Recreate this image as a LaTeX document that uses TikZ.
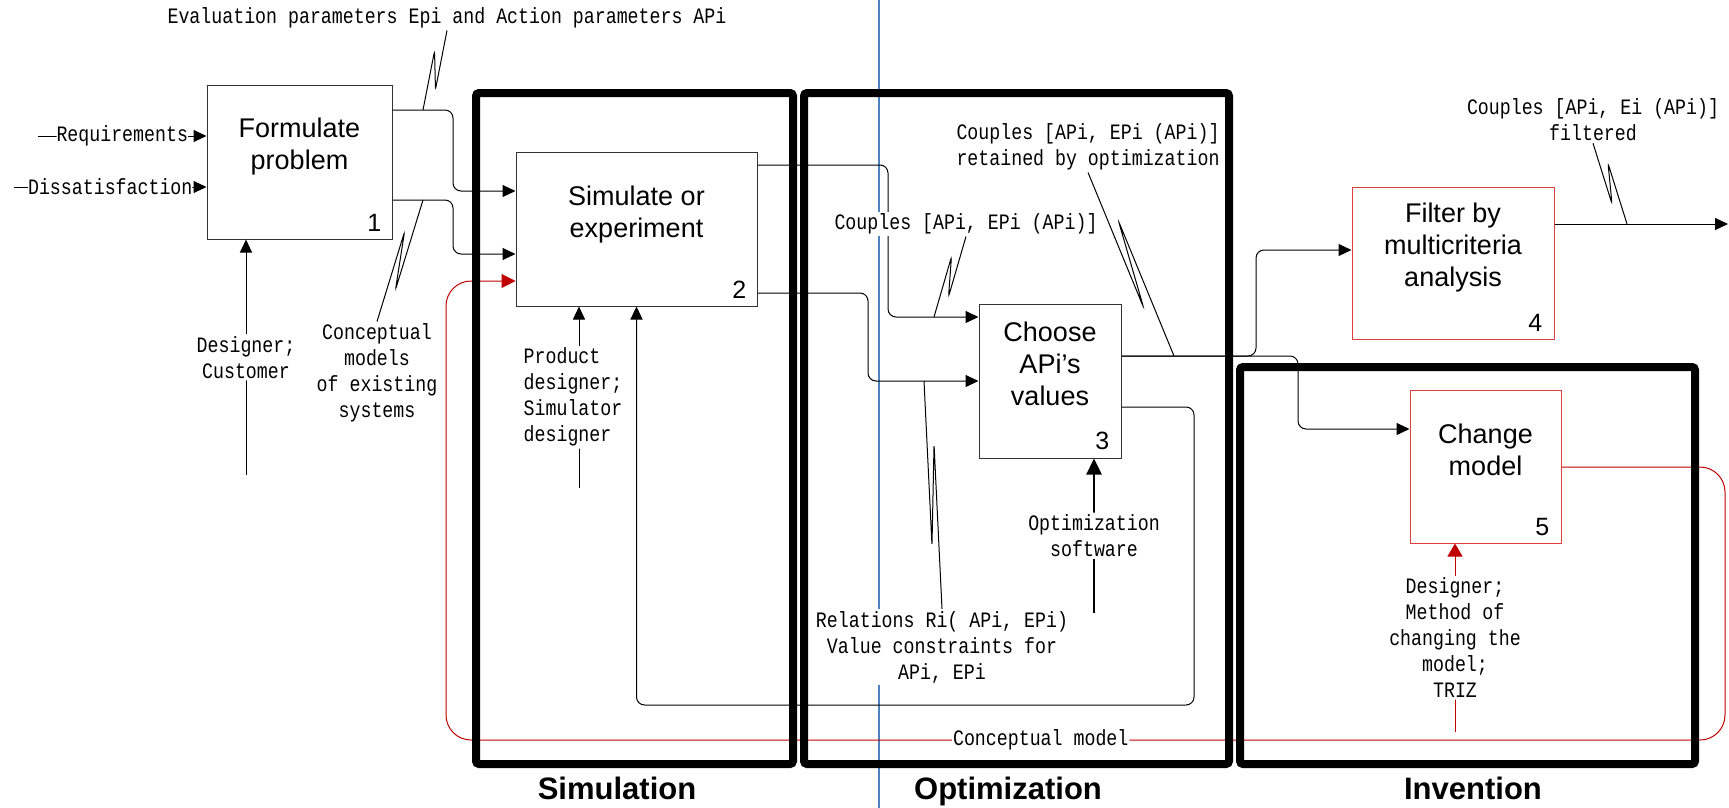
\documentclass[tikz,border=0pt]{standalone}
\usepackage{fontspec}
\setmainfont{Liberation Sans}
\newfontfamily\lblfont[FakeStretch=0.83]{Liberation Mono}
\usetikzlibrary{positioning,calc,arrows.meta}
\definecolor{idefred}{RGB}{192,0,0}
\definecolor{boxred}{RGB}{222,64,64}
\definecolor{guideblue}{RGB}{79,129,189}

\tikzset{
  fn/.style={rectangle, draw=black!80, line width=1pt, minimum height=154, inner sep=0pt},
  fntext/.style={font=\fontsize{27}{32}\selectfont, align=center, inner sep=0pt},
  fnnum/.style={font=\fontsize{25}{28}\selectfont, inner sep=0pt},
  lbl/.style={font=\lblfont\fontsize{22}{26}\selectfont, align=center, inner sep=2pt},
  arr/.style={draw, line width=1pt, rounded corners=8pt, -{Triangle[length=13pt,width=12pt]}},
  link/.style={line width=1pt, rounded corners=3pt},
  phase/.style={draw, line width=8pt, rounded corners=3pt, inner sep=0pt},
  phasetitle/.style={font=\fontsize{31}{36}\selectfont\bfseries, anchor=base},
  tilde/.style={to path={-- ($(\tikztostart)!.72!(\tikztotarget)!#1!90:(\tikztotarget)$) -- ($(\tikztostart)!.28!(\tikztotarget)!#1!-90:(\tikztotarget)$) -- (\tikztotarget)}},
}

\begin{document}
\begin{tikzpicture}[x=1pt, y=-1pt]
    \useasboundingbox (0,0) rectangle (1729,808);
    \draw[guideblue, line width=1.2pt] (879,0) -- (879,808);

    % activity boxes
    \node[fn, minimum width=185] (formulate) at (299.5,162) {};
    \node[fn, minimum width=241] (simulate) at (636.5,229) {};
    \node[fn, minimum width=142] (choose) at (1050,381) {};
    \node[fn, draw=boxred, minimum width=202, minimum height=152] (filter) at (1453,263) {};
    \node[fn, draw=boxred, minimum width=151, minimum height=153] (change) at (1485.5,466.5) {};

    \node[fntext, below=33pt of formulate.north] {Formulate\\problem};
    \node[fntext, below=34pt of simulate.north] {Simulate or\\experiment};
    \node[fntext, below=18pt of choose.north] {Choose\\APi's\\values};
    \node[fntext, below=16pt of filter.north] {Filter by\\multicriteria\\analysis};
    \node[fntext, below=34pt of change.north] {Change\\model};

    \node[fnnum, anchor=south east, above left=8pt and 11pt of formulate.south east] {1};
    \node[fnnum, anchor=south east, above left=8pt and 11pt of simulate.south east] {2};
    \node[fnnum, anchor=south east, above left=9pt and 12pt of choose.south east] {3};
    \node[fnnum, anchor=south east, above left=8pt and 12pt of filter.south east] {4};
    \node[fnnum, anchor=south east, above left=8pt and 12pt of change.south east] {5};

    % free ends and tilde points
    \coordinate (req) at (38,136);
    \coordinate (dis) at (14,187);
    \coordinate (cust) at (246,475);
    \coordinate (prod) at (579,488);
    \coordinate (optsw) at (1094,613);
    \coordinate (triz) at (1455,732);
    \coordinate (result) at (1728,224);
    \coordinate (t1) at (423,110);
    \coordinate (t2) at (423,200);
    \coordinate (t3) at (934,317);
    \coordinate (t4) at (924,381);
    \coordinate (t5) at (1174,356);
    \coordinate (t6) at (1627,224);

    % arrows
    \draw[arr] (req) -- node[lbl, fill=white, inner sep=0pt] {Requirements} (req -| formulate.west);
    \draw[arr] (dis) -- node[lbl, fill=white, inner sep=0pt] {Dissatisfaction} (dis -| formulate.west);
    \draw[arr] (cust) -- node[lbl, fill=white] {Designer;\\Customer} (cust |- formulate.south);

    \draw[arr] (formulate.east |- 0,110) -- (453,110) -- (453,191) -- (simulate.west |- 0,191);
    \draw[arr] (formulate.east |- 0,200) -- (453,200) -- (453,254) -- (simulate.west |- 0,254);
    \draw[arr] (prod) -- node[lbl, fill=white, align=left, xshift=-6pt] {Product\\designer;\\Simulator\\designer} (prod |- simulate.south);

    \draw[arr] (simulate.east |- 0,165) -- (888,165) -- (888,317) -- (choose.west |- 0,317);
    \draw[arr] (simulate.east |- 0,293) -- (868,293) -- (868,381) -- (choose.west |- 0,381);
    \draw[arr, line width=2.5pt, -{Triangle[length=16pt,width=15pt]}] (optsw) -- node[lbl, fill=white] {Optimization\\software} (optsw |- choose.south);

    \draw[arr] (choose.east |- 0,356) -- (1256,356) -- (1256,250) -- (filter.west |- 0,250);
    \draw[arr] (choose.east |- 0,356) -- (1298,356) -- (1298,429) -- (change.west |- 0,429);
    \draw[arr] (choose.east |- 0,407) -- (1194,407) -- (1194,705) -| (simulate.south);
    \draw[arr] (filter.east |- result) -- (result);

    \draw[arr, idefred, rounded corners=25pt, -{Triangle[length=14pt,width=14pt]}] (change.east |- 0,467) -- (1725,467) -- (1725,740)
        -- node[lbl, fill=white, text=black, inner sep=1pt, pos=.535] {Conceptual model} (446,740)
        -- (446,281) -- (simulate.west |- 0,281);
    \draw[arr, idefred, -{Triangle[length=13pt,width=15pt]}] (triz) -- node[lbl, fill=white, text=black] {Designer;\\Method of\\changing the\\model;\\TRIZ} (triz |- change.south);

    % labels with tildes
    \node[lbl] (evalp) at (447,18) {Evaluation parameters Epi and Action parameters APi};
    \node[lbl] (models) at (377,373) {Conceptual\\models\\of existing\\systems};
    \node[lbl, fill=white] (pairs) at (966,224) {Couples [APi, EPi (APi)]};
    \node[lbl] (kept) at (1088,147) {Couples [APi, EPi (APi)]\\retained by optimization};
    \node[lbl] (filtered) at (1593,120) {Couples [APi, Ei (APi)]\\filtered};
    \node[lbl, fill=white] (relations) at (942,647) {Relations Ri( APi, EPi)\\Value constraints for\\APi, EPi};

    \draw[link] (evalp.south) to[tilde=6pt] (t1);
    \draw[link] (models.north) to[tilde=6pt] (t2);
    \draw[link] (pairs.south) to[tilde=6pt] (t3);
    \draw[link] (relations.north) to[tilde=-5pt] (t4);
    \draw[link] (kept.south) to[tilde=-7pt] (t5);
    \draw[link] (filtered.south) to[tilde=-6pt] (t6);

    % phases
    \node[phase, minimum width=317, minimum height=671] (simphase) at (634.5,428.5) {};
    \node[phase, minimum width=425, minimum height=671] (optphase) at (1016.5,428.5) {};
    \node[phase, minimum width=455, minimum height=397] (invphase) at (1467.5,565.5) {};
    \node[phasetitle] (simtitle) at (617,799) {Simulation};
    \node[phasetitle] (opttitle) at (1008,799) {Optimization};
    \node[phasetitle] (invtitle) at (1473,799) {Invention};
\end{tikzpicture}
\end{document}
